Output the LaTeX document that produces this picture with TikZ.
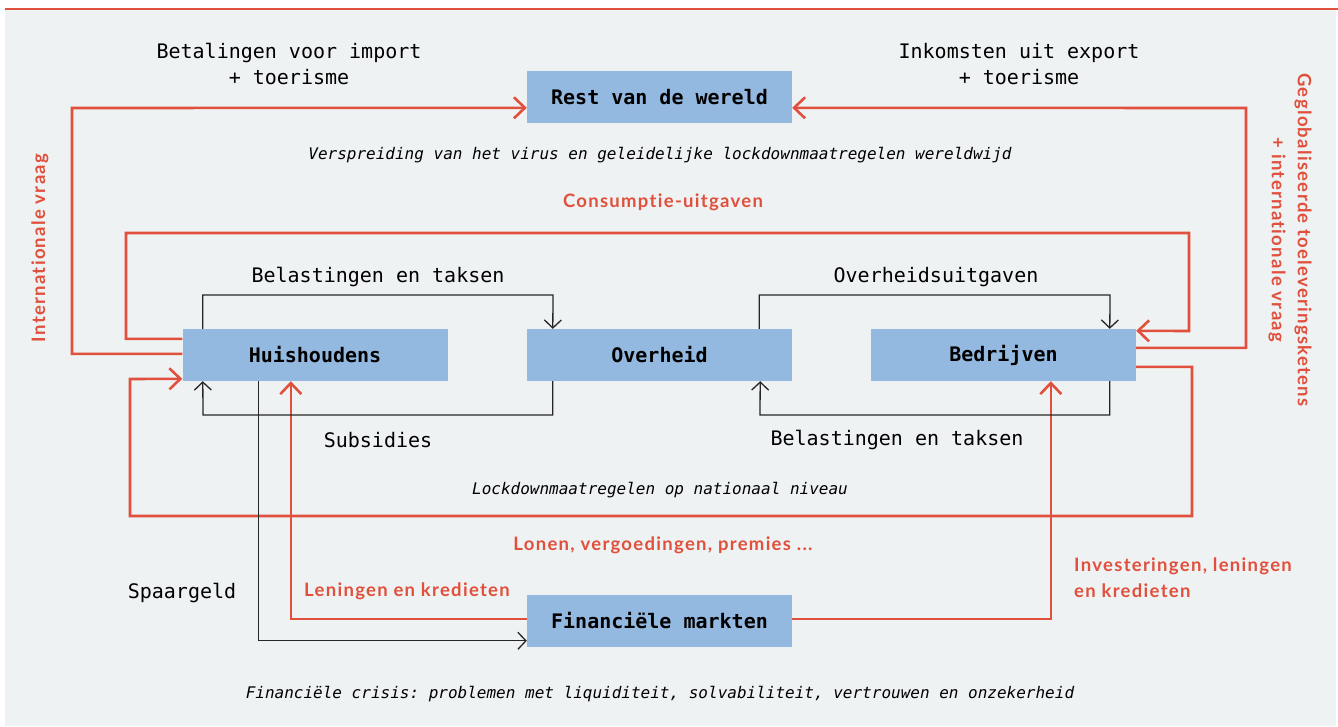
\documentclass[tikz,border=0pt]{standalone}
\usepackage{fontspec}
\setmonofont{DejaVu Sans Mono}
\newfontfamily\redf[LetterSpace=7,Ligatures={NoCommon,NoRequired}]{Lato}
\usetikzlibrary{arrows.meta,calc}
\definecolor{bg}{RGB}{239,242,243}
\definecolor{rd}{RGB}{224,80,60}
\definecolor{bx}{RGB}{148,185,224}
\begin{document}
\begin{tikzpicture}[x=1pt,y=-1pt,line join=miter,
  box/.style={fill=bx,minimum width=265pt,minimum height=52pt,inner sep=0pt,font=\ttfamily\bfseries\fontsize{20}{24}\selectfont},
  mt/.style={font=\ttfamily\fontsize{20}{26}\selectfont,align=center,inner sep=0pt},
  it/.style={font=\ttfamily\itshape\fontsize{16}{20}\selectfont,inner sep=0pt},
  rt/.style={font=\redf\bfseries\fontsize{18.5}{26}\selectfont,text=rd,inner sep=0pt},
  rl/.style={draw=rd,line width=2.6pt,-{Straight Barb[length=11pt,width=21pt]}},
  bl/.style={draw=black!85,line width=1.3pt,-{Straight Barb[length=8pt,width=17pt]}}]
\useasboundingbox (0,0) rectangle (1338,726);
\fill[white] (0,0) rectangle (1338,726);
\fill[bg] (5,10) rectangle (1336,726);
\draw[rd,line width=2.6pt] (5,9) -- (1338,9);

\node[box] (rest) at (659.5,97) {Rest van de wereld};
\node[box] (hh) at (315,355) {Huishoudens};
\node[box] (ov) at (659.5,355) {Overheid};
\node[box] (bd) at (1003.5,355) {Bedrijven};
\node[box] (fm) at (659.5,621) {Financiële markten};

% red flows
\draw[rl] ($(hh.north west)+(0,25)$) -| (72,108) -- ($(rest.north west)+(0,37)$);
\draw[rl] ($(hh.north west)+(0,10)$) -| (126,233) -| (1189,331) -- ($(bd.north east)+(0,2)$);
\draw[rl] ($(bd.north east)+(0,19)$) -| (1246,108) -- ($(rest.north east)+(0,37)$);
\draw[rl] ($(bd.north east)+(0,38)$) -| (1192,516) -| (130,379) -- ($(hh.north west)+(0,50)$);
\draw[rl] ($(fm.north west)+(0,24)$) -| ($(hh.south west)+(108.5,0)$);
\draw[rl] ($(fm.north east)+(0,24)$) -| ($(bd.south west)+(180,0)$);

% black flows
\draw[bl] ($(hh.north west)+(20.5,0)$) |- (553,295) -- ($(ov.north west)+(26,0)$);
\draw[bl] ($(ov.south west)+(26,0)$) |- (203,415) -- ($(hh.south west)+(20.5,0)$);
\draw[bl] ($(ov.north east)+(-33,0)$) |- (1110,295) -- ($(bd.north west)+(239,0)$);
\draw[bl] ($(bd.south west)+(239,0)$) |- (760,415) -- ($(ov.south east)+(-32,0)$);
\draw[bl] ($(hh.south west)+(76,0)$) |- ($(fm.north west)+(0,46)$);

% labels
\node[mt] (t1) at (289,64) {Betalingen voor import\\+ toerisme};
\node[mt] (t2) at (1019,64) {Inkomsten uit export\\+ toerisme};
\node[it] (t3) at (660,155) {Verspreiding van het virus en geleidelijke lockdownmaatregelen wereldwijd};
\node[rt] (t4) at (663,202) {Consumptie-uitgaven};
\node[mt] (t5) at (378,277) {Belastingen en taksen};
\node[mt] (t6) at (936,277) {Overheidsuitgaven};
\node[mt] (t7) at (378,440) {Subsidies};
\node[mt] (t8) at (897,440) {Belastingen en taksen};
\node[it] (t9) at (660,490) {Lockdownmaatregelen op nationaal niveau};
\node[rt] (t10) at (663,545) {Lonen, vergoedingen, premies ...};
\node[mt] (t11) at (182,593) {Spaargeld};
\node[rt,anchor=west] (t12) at (304,591) {Leningen en kredieten};
\node[rt,anchor=west,align=left] (t13) at (1074,578) {Investeringen, leningen\\en kredieten};
\node[it] (t14) at (660,694) {Financiële crisis: problemen met liquiditeit, solvabiliteit, vertrouwen en onzekerheid};
\node[rt,rotate=90] (t15) at (40,248) {Internationale vraag};
\node[rt,rotate=-90,align=center] (t16) at (1290,240) {Geglobaliseerde toeleveringsketens\\+ internationale vraag};
\end{tikzpicture}
\end{document}
